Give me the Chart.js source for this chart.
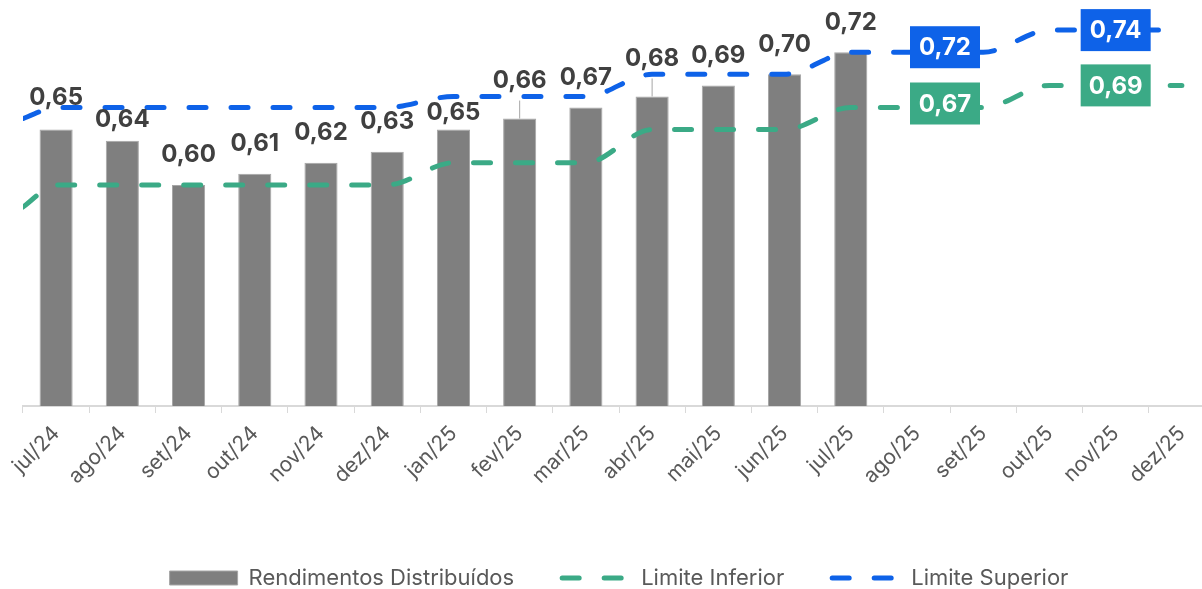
<!DOCTYPE html>
<html>
<head>
<meta charset="utf-8">
<script src="https://cdn.jsdelivr.net/npm/chart.js@4.4.1/dist/chart.umd.min.js"></script>
<style>
  html, body { margin: 0; padding: 0; background: #fff; overflow: hidden; }
  #wrap { width: 1222px; height: 589px; }
</style>
</head>
<body>
<div id="wrap"><canvas id="grafico"></canvas></div>
<script>
// dados
const meses = ['jul/24', 'ago/24', 'set/24', 'out/24', 'nov/24', 'dez/24', 'jan/25', 'fev/25', 'mar/25',
    'abr/25', 'mai/25', 'jun/25', 'jul/25', 'ago/25', 'set/25', 'out/25', 'nov/25', 'dez/25'];
const rendimentos = [0.65, 0.64, 0.60, 0.61, 0.62, 0.63, 0.65, 0.66, 0.67, 0.68, 0.69, 0.70, 0.72];
const limiteInferior = [0.60, 0.60, 0.60, 0.60, 0.60, 0.60, 0.62, 0.62, 0.62, 0.65, 0.65, 0.65, 0.67, 0.67, 0.67, 0.69, 0.69, 0.69];
const limiteSuperior = [0.67, 0.67, 0.67, 0.67, 0.67, 0.67, 0.68, 0.68, 0.68, 0.70, 0.70, 0.70, 0.72, 0.72, 0.72, 0.74, 0.74, 0.74];
// valor das linhas na borda esquerda do grafico
const inicioInferior = 0.58;
const inicioSuperior = 0.66;
const eixoMin = 0.40;
const eixoMax = 0.76;

const AZUL = '#0E62E8';
const VERDE = '#3BAA86';
const FONTE = 'Inter, "Open Sans", sans-serif';

// distancia do rotulo acima de cada barra (px)
const alturaRotulo = [32, 21, 30, 30, 30, 30, 17, 38, 30, 38, 30, 30, 29];
// caixas de valor nas linhas
const caixas = [
    { ds: 2, idx: 13, dx: 28, dy: -5, cor: AZUL },
    { ds: 2, idx: 16, dx: 0, dy: 0, cor: AZUL },
    { ds: 1, idx: 13, dx: 28, dy: -4, cor: VERDE },
    { ds: 1, idx: 16, dx: 0, dy: 0, cor: VERDE }
];

function fmt(v) {
    return v.toFixed(2).replace('.', ',');
}

function pontosLinha(inicio, valores) {
    const pts = [{ x: -0.5, y: inicio }];
    valores.forEach(function (v, i) { pts.push({ x: i, y: v }); });
    return pts;
}

const rotulos = {
    id: 'rotulos',
    afterDatasetsDraw(chart) {
        const ctx = chart.ctx;
        ctx.save();
        ctx.font = 'bold 24px ' + FONTE;
        ctx.textAlign = 'center';
        ctx.textBaseline = 'middle';

        chart.getDatasetMeta(0).data.forEach(function (bar, i) {
            if (rendimentos[i] == null) return;
            const y = bar.y - alturaRotulo[i];
            if (alturaRotulo[i] > 33) {
                // linha guia do rotulo deslocado
                ctx.strokeStyle = '#A6A6A6';
                ctx.lineWidth = 1;
                ctx.beginPath();
                ctx.moveTo(bar.x, bar.y);
                ctx.lineTo(bar.x, y + 20);
                ctx.stroke();
            }
            ctx.fillStyle = '#404040';
            ctx.fillText(fmt(rendimentos[i]), bar.x, y);
        });

        caixas.forEach(function (c) {
            const pt = chart.getDatasetMeta(c.ds).data[c.idx + 1];
            const valor = chart.data.datasets[c.ds].data[c.idx + 1].y;
            const cx = pt.x + c.dx;
            const cy = pt.y + c.dy;
            ctx.fillStyle = c.cor;
            ctx.fillRect(cx - 35, cy - 21, 70, 42);
            ctx.fillStyle = '#FFFFFF';
            ctx.fillText(fmt(valor), cx, cy + 1);
        });
        ctx.restore();
    }
};

const ctx = document.getElementById('grafico').getContext('2d');
new Chart(ctx, {
    type: 'bar',
    data: {
        labels: meses,
        datasets: [{
            type: 'bar',
            label: 'Rendimentos Distribuídos',
            data: rendimentos,
            backgroundColor: '#7F7F7F',
            borderColor: '#A6A6A6',
            borderWidth: 1,
            barPercentage: 0.5,
            categoryPercentage: 1.0,
            grouped: false,
            pointStyle: 'rect',
            order: 1
        }, {
            type: 'line',
            label: 'Limite Inferior',
            data: pontosLinha(inicioInferior, limiteInferior),
            xAxisID: 'x2',
            borderColor: VERDE,
            backgroundColor: VERDE,
            borderWidth: 5,
            borderDash: [17, 25],
            borderCapStyle: 'round',
            cubicInterpolationMode: 'monotone',
            pointRadius: 0,
            pointHoverRadius: 0,
            pointStyle: 'line',
            order: 0
        }, {
            type: 'line',
            label: 'Limite Superior',
            data: pontosLinha(inicioSuperior, limiteSuperior),
            xAxisID: 'x2',
            borderColor: AZUL,
            backgroundColor: AZUL,
            borderWidth: 5,
            borderDash: [17, 25],
            borderCapStyle: 'round',
            cubicInterpolationMode: 'monotone',
            pointRadius: 0,
            pointHoverRadius: 0,
            pointStyle: 'line',
            order: 0
        }]
    },
    options: {
        responsive: true,
        maintainAspectRatio: false,
        animation: false,
        layout: {
            padding: { left: 23, right: 7, top: 8, bottom: -10 }
        },
        scales: {
            x: {
                offset: true,
                grid: {
                    offset: true,
                    drawOnChartArea: false,
                    drawTicks: true,
                    tickLength: 7,
                    color: '#D9D9D9'
                },
                border: { color: '#D9D9D9', width: 2 },
                ticks: {
                    autoSkip: false,
                    minRotation: 45,
                    maxRotation: 45,
                    padding: 8,
                    color: '#595959',
                    font: { family: FONTE, size: 21 }
                },
                afterFit: function (scale) {
                    scale.height = 113;
                    scale.paddingLeft = 0;
                    scale.paddingRight = 0;
                }
            },
            x2: {
                type: 'linear',
                display: false,
                offset: false,
                grid: { offset: false },
                min: -0.5,
                max: meses.length - 0.5
            },
            y: {
                display: false,
                min: eixoMin,
                max: eixoMax
            }
        },
        plugins: {
            legend: {
                position: 'bottom',
                labels: {
                    usePointStyle: true,
                    pointStyleWidth: 68,
                    boxHeight: 14,
                    padding: 48,
                    color: '#595959',
                    font: { family: FONTE, size: 22 },
                    sort: function (a, b) { return a.datasetIndex - b.datasetIndex; },
                    generateLabels: function (chart) {
                        const itens = Chart.defaults.plugins.legend.labels.generateLabels(chart);
                        itens.forEach(function (it) {
                            const ds = chart.data.datasets[it.datasetIndex];
                            if (ds.type === 'line') {
                                it.lineDash = ds.borderDash;
                                it.lineWidth = ds.borderWidth;
                                it.lineCap = 'round';
                                it.strokeStyle = ds.borderColor;
                            }
                        });
                        return itens;
                    }
                }
            },
            tooltip: { enabled: false }
        }
    },
    plugins: [rotulos]
});
</script>
</body>
</html>
